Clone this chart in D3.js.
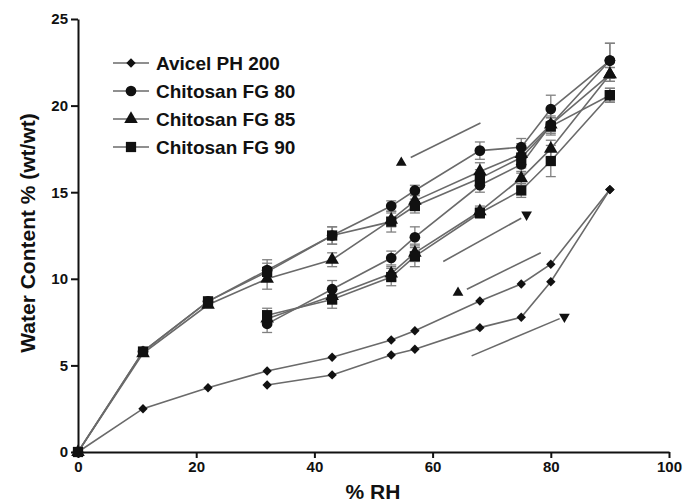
<!DOCTYPE html>
<html lang="en">
<head>
  <meta charset="UTF-8">
  <style>
    body {
      margin: 0;
      overflow: hidden;
      background: #fff;
    }

    svg {
      display: block;
      font-family: "Liberation Sans", Arial, sans-serif;
      font-weight: bold;
    }

    .curve {
      fill: none;
      stroke: #6a6a6a;
      stroke-width: 1.6;
    }

    .errbar {
      stroke: #808080;
      stroke-width: 1.3;
    }

    .marker {
      fill: #111;
    }

    .axis path,
    .axis line {
      stroke: #111;
      stroke-width: 2;
    }

    .axis text {
      font-size: 15px;
      font-weight: bold;
      fill: #111;
    }
  </style>
  <script src="https://d3js.org/d3.v7.min.js"></script>
</head>
<body>

<svg id="chart"></svg>

<script>
  // legend labels
  const seriesNames = ["Avicel PH 200", "Chitosan FG 80", "Chitosan FG 85", "Chitosan FG 90"];
  const xTicks = [0, 20, 40, 60, 80, 100];
  const yTicks = [0, 5, 10, 15, 20, 25];

  // [% RH, water content, sd]
  const avicelSorption = [[32, 3.87, 0], [43, 4.45, 0], [53, 5.6, 0], [57, 5.93, 0], [68, 7.18, 0], [75, 7.78, 0], [80, 9.83, 0], [90, 15.15, 0]];
  const avicelDesorption = [[90, 15.15, 0], [80, 10.84, 0], [75, 9.7, 0], [68, 8.72, 0], [57, 7.0, 0], [53, 6.47, 0], [43, 5.47, 0], [32, 4.68, 0], [22, 3.71, 0], [11, 2.5, 0], [0, 0, 0]];

  const fg80Sorption = [[32, 7.4, 0.5], [43, 9.4, 0.5], [53, 11.2, 0.4], [57, 12.4, 0.6], [68, 15.4, 0.4], [75, 16.6, 0.5], [80, 18.9, 0.4], [90, 22.6, 1.0]];
  const fg80Desorption = [[90, 22.6, 1.0], [80, 19.8, 0.8], [75, 17.6, 0.5], [68, 17.4, 0.5], [57, 15.1, 0.3], [53, 14.2, 0.3], [43, 12.5, 0.5], [32, 10.5, 0.6], [22, 8.7, 0.2], [11, 5.8, 0.15], [0, 0, 0]];

  const fg85Sorption = [[32, 7.7, 0.4], [43, 9.0, 0.4], [53, 10.3, 0.4], [57, 11.5, 0.5], [68, 13.9, 0.3], [75, 15.8, 0.4], [80, 17.5, 0.5], [90, 21.8, 0.4]];
  const fg85Desorption = [[90, 21.8, 0.4], [80, 18.9, 0.5], [75, 17.2, 0.6], [68, 16.2, 0.5], [57, 14.5, 0.4], [53, 13.4, 0.4], [43, 11.1, 0.4], [32, 10.0, 0.6], [22, 8.5, 0.2], [11, 5.7, 0.15], [0, 0, 0]];

  const fg90Sorption = [[32, 7.9, 0.4], [43, 8.8, 0.5], [53, 10.1, 0.5], [57, 11.3, 0.6], [68, 13.8, 0.3], [75, 15.1, 0.4], [80, 16.8, 0.9], [90, 20.6, 0.4]];
  const fg90Desorption = [[90, 20.6, 0.4], [80, 18.8, 0.5], [75, 17.0, 0.6], [68, 15.8, 0.5], [57, 14.2, 0.4], [53, 13.3, 0.6], [43, 12.5, 0.5], [32, 10.4, 0.5], [22, 8.7, 0.2], [11, 5.8, 0.15], [0, 0, 0]];

  // direction arrows [x1, y1, x2, y2] in data units, head sits at (x1,y1) or (x2,y2)
  const arrowLines = [[56.3, 17.0, 68.1, 19.0], [61.8, 11.0, 75.0, 13.5], [65.8, 9.4, 78.3, 11.5], [66.6, 5.55, 81.5, 7.7]];
  const arrowHeads = [[54.7, 16.7, "up"], [75.9, 13.7, "down"], [64.3, 9.2, "up"], [82.3, 7.8, "down"]];

  const width = 686, height = 504;
  const svg = d3.select("#chart")
    .attr("width", width)
    .attr("height", height);

  const x = d3.scaleLinear().domain([0, 100]).range([78, 669]);
  const y = d3.scaleLinear().domain([0, 25]).range([452, 19]);

  // diamond = square turned 45 degrees
  const symbols = [d3.symbolSquare, d3.symbolCircle, d3.symbolTriangle, d3.symbolSquare];
  const symbolSizes = [44, 90, 80, 105];
  const symbolTurn = [45, 0, 0, 0];

  const series = [
    { name: seriesNames[0], shape: 0, branches: [avicelSorption, avicelDesorption] },
    { name: seriesNames[1], shape: 1, branches: [fg80Sorption, fg80Desorption] },
    { name: seriesNames[2], shape: 2, branches: [fg85Sorption, fg85Desorption] },
    { name: seriesNames[3], shape: 3, branches: [fg90Sorption, fg90Desorption] }
  ];

  const line = d3.line()
    .x(d => x(d[0]))
    .y(d => y(d[1]));

  // curves first
  series.forEach(s => {
    s.branches.forEach(b => {
      svg.append("path")
        .attr("class", "curve")
        .attr("d", line(b));
    });
  });

  // error bars
  series.forEach(s => {
    s.branches.forEach(b => {
      b.filter(d => d[2] > 0.25).forEach(d => {
        const g = svg.append("g").attr("class", "errbar");
        g.append("line")
          .attr("x1", x(d[0])).attr("x2", x(d[0]))
          .attr("y1", y(d[1] - d[2])).attr("y2", y(d[1] + d[2]));
        [d[1] - d[2], d[1] + d[2]].forEach(v => {
          g.append("line")
            .attr("x1", x(d[0]) - 5).attr("x2", x(d[0]) + 5)
            .attr("y1", y(v)).attr("y2", y(v));
        });
      });
    });
  });

  // markers
  series.forEach(s => {
    const sym = d3.symbol().type(symbols[s.shape]).size(symbolSizes[s.shape]);
    s.branches.forEach(b => {
      svg.selectAll(null)
        .data(b)
        .enter()
        .append("path")
        .attr("class", "marker")
        .attr("d", sym)
        .attr("transform", d => `translate(${x(d[0])},${y(d[1])}) rotate(${symbolTurn[s.shape]})`);
    });
  });

  // arrows
  arrowLines.forEach(a => {
    svg.append("line")
      .attr("class", "curve")
      .attr("x1", x(a[0])).attr("y1", y(a[1]))
      .attr("x2", x(a[2])).attr("y2", y(a[3]));
  });
  const head = d3.symbol().type(d3.symbolTriangle).size(50);
  arrowHeads.forEach(h => {
    svg.append("path")
      .attr("class", "marker")
      .attr("d", head)
      .attr("transform", `translate(${x(h[0])},${y(h[1])}) rotate(${h[2] === "down" ? 180 : 0})`);
  });

  // axes
  svg.append("g")
    .attr("class", "axis")
    .attr("transform", `translate(0,${y(0)})`)
    .call(d3.axisBottom(x).tickValues(xTicks).tickSize(6).tickPadding(3).tickSizeOuter(0));

  svg.append("g")
    .attr("class", "axis")
    .attr("transform", `translate(${x(0)},0)`)
    .call(d3.axisLeft(y).tickValues(yTicks).tickSize(7).tickPadding(3).tickSizeOuter(0));

  // axis titles
  svg.append("text")
    .attr("transform", `translate(35,233) rotate(-90)`)
    .attr("text-anchor", "middle")
    .attr("font-size", 21)
    .attr("fill", "#111")
    .text("Water Content % (wt/wt)");

  svg.append("text")
    .attr("x", 373)
    .attr("y", 499)
    .attr("text-anchor", "middle")
    .attr("font-size", 21)
    .attr("fill", "#111")
    .text("% RH");

  // legend
  const legend = svg.append("g").attr("transform", "translate(113,63)");
  series.forEach((s, i) => {
    const row = legend.append("g").attr("transform", `translate(0,${i * 28})`);
    row.append("line")
      .attr("class", "curve")
      .attr("x1", 0).attr("x2", 36)
      .attr("y1", 0).attr("y2", 0);
    row.append("path")
      .attr("class", "marker")
      .attr("d", d3.symbol().type(symbols[s.shape]).size(symbolSizes[s.shape])())
      .attr("transform", `translate(18,0) rotate(${symbolTurn[s.shape]})`);
    row.append("text")
      .attr("x", 43)
      .attr("y", 0)
      .attr("dy", "0.36em")
      .attr("font-size", 19)
      .attr("fill", "#111")
      .text(s.name);
  });
</script>

</body>
</html>
